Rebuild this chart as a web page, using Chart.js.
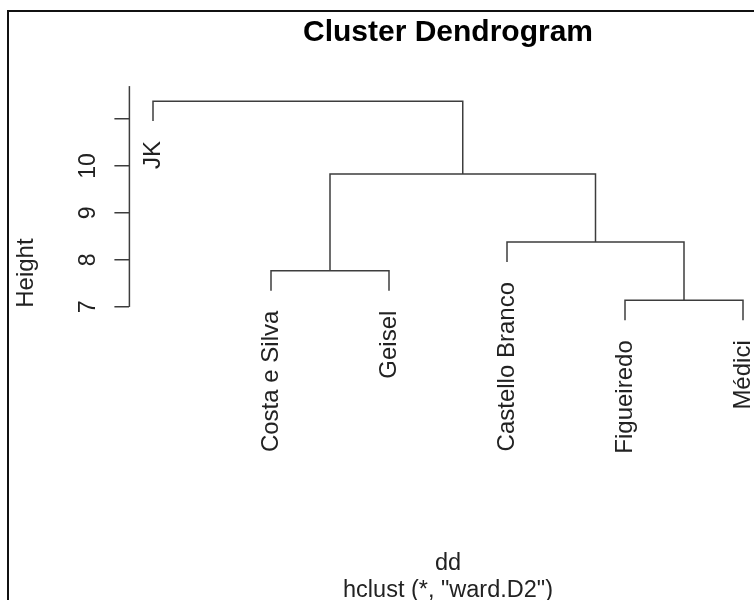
<!DOCTYPE html>
<html>
<head>
<meta charset="utf-8">
<script src="https://cdn.jsdelivr.net/npm/chart.js"></script>
<style>
  html, body { margin: 0; padding: 0; background: #fff; overflow: hidden; }
  #frame { position: absolute; left: 7px; top: 10px; width: 747px; height: 590px;
           border-left: 2px solid #111; border-top: 2px solid #111; overflow: hidden; }
  canvas { display: block; }
</style>
</head>
<body>
<div id="frame"><canvas id="dendro" width="770" height="602"></canvas></div>
<script>
// Dendrograma (hclust, ward.D2)
const leafLabels = ['JK', 'Costa e Silva', 'Geisel', 'Castello Branco', 'Figueiredo', 'Médici'];
// como hclust$merge: negativo = hoja (posicion 1..6), positivo = fusion anterior
const mergeLeft = [-5, -2, -4, 2, -1];
const mergeRight = [-6, -3, 1, 3, 4];
const mergeHeights = [7.14, 7.77, 8.38, 9.83, 11.38];
const yTicks = [7, 8, 9, 10, 11];
const yTickLabels = ['7', '8', '9', '10', ''];

const FONT = "'Liberation Sans', Arial, sans-serif";
const LINE = '#3d3d3d';
const TEXT = '#222';

const hang = 0.1 * (Math.max(...mergeHeights) - Math.min(...mergeHeights));
const leafEnd = [];
const nodeX = [];

function childPos(c, h) {
  if (c < 0) {
    leafEnd[-c - 1] = h - hang;
    return { x: -c, y: h - hang };
  }
  return { x: nodeX[c - 1], y: mergeHeights[c - 1] };
}

const datasets = mergeHeights.map((h, k) => {
  const a = childPos(mergeLeft[k], h);
  const b = childPos(mergeRight[k], h);
  nodeX[k] = (a.x + b.x) / 2;
  return {
    data: [{ x: a.x, y: a.y }, { x: a.x, y: h }, { x: b.x, y: h }, { x: b.x, y: b.y }],
    showLine: true,
    borderColor: LINE,
    borderWidth: 1.5,
    pointRadius: 0,
    fill: false
  };
});

// eje y, etiquetas de ticks y de hojas (rotadas como en R)
const dendroText = {
  id: 'dendroText',
  afterDraw(chart) {
    const { ctx, chartArea, scales: { x, y } } = chart;
    ctx.save();
    ctx.strokeStyle = LINE;
    ctx.lineWidth = 1.5;
    ctx.beginPath();
    ctx.moveTo(chartArea.left, y.getPixelForValue(yTicks[0]));
    ctx.lineTo(chartArea.left, chartArea.top);
    ctx.stroke();

    ctx.fillStyle = TEXT;
    ctx.font = '23px ' + FONT;
    ctx.textAlign = 'center';
    ctx.textBaseline = 'middle';
    yTicks.forEach((v, i) => {
      ctx.save();
      ctx.translate(chartArea.left - 41, y.getPixelForValue(v));
      ctx.rotate(-Math.PI / 2);
      ctx.fillText(yTickLabels[i], 0, 0);
      ctx.restore();
    });

    ctx.font = '24px ' + FONT;
    ctx.textAlign = 'right';
    leafLabels.forEach((lab, i) => {
      ctx.save();
      ctx.translate(x.getPixelForValue(i + 1), y.getPixelForValue(leafEnd[i]) + 20);
      ctx.rotate(-Math.PI / 2);
      ctx.fillText(lab, 0, 0);
      ctx.restore();
    });
    ctx.restore();
  }
};

new Chart(document.getElementById('dendro'), {
  type: 'scatter',
  data: { datasets },
  plugins: [dendroText],
  options: {
    responsive: false,
    animation: false,
    layout: { padding: { left: 0, right: 12.4, top: 0, bottom: 0 } },
    scales: {
      x: { type: 'linear', min: 0.8, max: 6.2, display: false },
      y: {
        type: 'linear',
        min: 3.74,
        max: 11.7,
        afterBuildTicks: (s) => { s.ticks = yTicks.map(v => ({ value: v })); },
        afterFit: (s) => { s.width = 120.4; },
        ticks: { display: false },
        border: { display: false },
        grid: { drawOnChartArea: false, drawTicks: true, tickLength: 15, color: LINE, lineWidth: 1.5 },
        title: {
          display: true,
          text: 'Height',
          color: TEXT,
          font: { family: FONT, size: 24 },
          padding: { top: 3, bottom: 0 }
        }
      }
    },
    plugins: {
      legend: { display: false },
      tooltip: { enabled: false },
      title: {
        display: true,
        text: 'Cluster Dendrogram',
        fullSize: false,
        color: '#000',
        font: { family: FONT, size: 30, weight: 'bold' },
        padding: { top: 2.4, bottom: 35.7 }
      },
      subtitle: {
        display: true,
        position: 'bottom',
        fullSize: false,
        text: ['dd', 'hclust (*, "ward.D2")'],
        color: TEXT,
        font: { family: FONT, size: 23.5, lineHeight: 27 / 23.5 },
        padding: { top: 90.3, bottom: 9.6 }
      }
    }
  }
});
</script>
</body>
</html>
